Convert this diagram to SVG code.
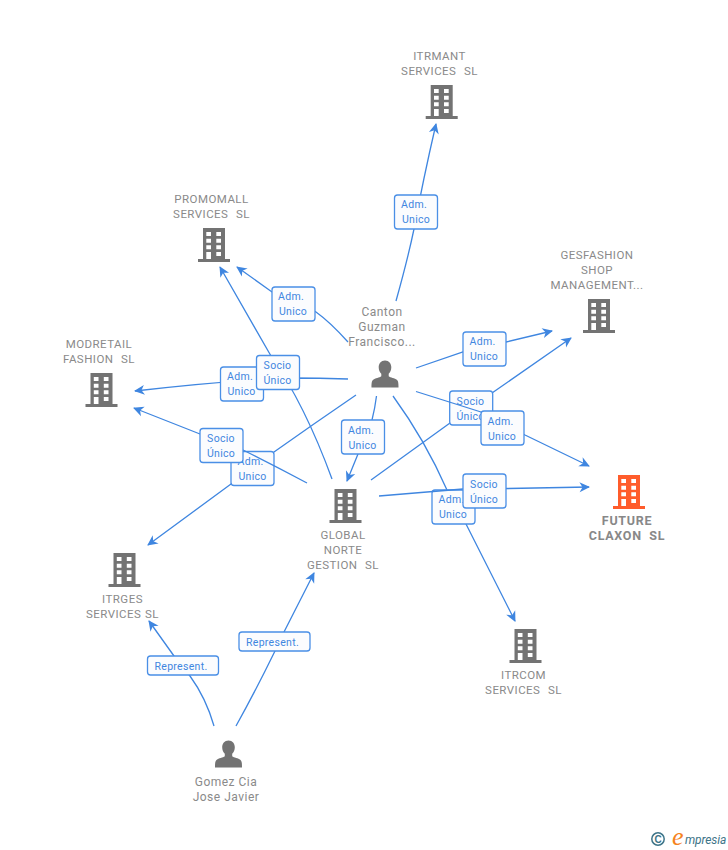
<svg xmlns="http://www.w3.org/2000/svg" width="728" height="850" viewBox="0 0 728 850">
<style>
text{font-family:Roboto,"Liberation Sans",Arial,sans-serif;white-space:pre}
.n{font-size:11.5px;fill:#8a8a8a;text-anchor:middle;letter-spacing:.45px;word-spacing:.5px}
.p{font-size:12px;fill:#8a8a8a;text-anchor:middle;letter-spacing:.5px}
.f{font-size:12.5px;font-weight:700;fill:#888;text-anchor:middle;letter-spacing:.7px}
.l{font-size:10.5px;fill:#3f86e0;text-anchor:middle;letter-spacing:.3px}
.c{fill:none;stroke:#3f86e0;stroke-width:1.3;marker-end:url(#a)}
.b{fill:#fbfcfe;stroke:#4a8fe6;stroke-width:1.3}
</style>
<defs>
<marker id="a" markerUnits="userSpaceOnUse" markerWidth="16" markerHeight="16" viewBox="-13 -8 16 16" refX="0" refY="0" orient="auto">
<path d="M1,0L-9.500,-5L-6.500,0L-9.500,5Z" fill="#3f86e0"/>
</marker>
<symbol id="bw" overflow="visible">
<path fill="#fff" d="M-7.700,-13h4.700v4h-4.700zM2.300,-13h4.700v4h-4.700zM-7.700,-6.300h4.700v4h-4.700zM2.300,-6.300h4.700v4h-4.700zM-7.700,.3h4.700v4h-4.700zM2.300,.3h4.700v4h-4.700zM-7.700,7h4.700v7h-4.700zM2.300,7h4.700v4h-4.700z"/>
</symbol>
<g id="bld"><path d="M-11,-17h22v31h5v3h-32v-3h5z"/><use href="#bw"/></g>
<g id="per"><path d="M0,-14.500c4,0 6.300,3 6.300,6.800c0,2.800 -1,5 -2.600,6.500v2.200c0,1 5,2 7.300,3.200c2.200,1.200 2.500,3 2.500,8.300h-27c0,-5.300 .3,-7.100 2.500,-8.300c2.300,-1.200 7.300,-2.200 7.300,-3.200v-2.200c-1.600,-1.500 -2.600,-3.700 -2.600,-6.500c0,-3.800 2.300,-6.800 6.300,-6.800z"/></g>
</defs>
<rect width="728" height="850" fill="#fff"/>
<g id="connectors">
<path class="c" d="M396,301Q408,258 414,229Q423,180 436,124"/>
<path class="c" d="M348,342Q330,322 316,312Q300,302 272,292L237,267"/>
<path class="c" d="M348,379Q320,378 290,378Q220,381 135,391"/>
<path class="c" d="M356,395Q315,423 274,452Q250,470 231,484L148,545"/>
<path class="c" d="M376.500,396Q375,408 372,420L358,454L347,481"/>
<path class="c" d="M416,368L463,352L506,342L552,331"/>
<path class="c" d="M371,480L450,423L492,393L571,338"/>
<path class="c" d="M393,396Q425,440 447,490L466,524L515,621"/>
<path class="c" d="M214,726Q206,698 190,676L174,656L149,621"/>
<path class="c" d="M236,726Q256,690 275,651L284,632L314,573"/>
</g>
<g id="n-itrmant"><use href="#bld" x="441.700" y="102" fill="#737373"/><text class="n" x="439.500" y="60">ITRMANT</text><text class="n" x="439.500" y="75">SERVICES  SL</text></g>
<g id="n-promomall"><use href="#bld" x="214" y="245" fill="#737373"/><text class="n" x="211.500" y="203">PROMOMALL</text><text class="n" x="211.500" y="218">SERVICES  SL</text></g>
<g id="n-gesfashion"><use href="#bld" x="599" y="316" fill="#737373"/><text class="n" x="597" y="259">GESFASHION</text><text class="n" x="597" y="274">SHOP</text><text class="n" x="597" y="289">MANAGEMENT...</text></g>
<g id="n-modretail"><use href="#bld" x="101.500" y="390" fill="#737373"/><text class="n" x="99" y="348">MODRETAIL</text><text class="n" x="99" y="363">FASHION  SL</text></g>
<g id="n-global"><use href="#bld" x="345.500" y="506" fill="#737373"/><text class="n" x="343" y="539">GLOBAL</text><text class="n" x="343" y="554">NORTE</text><text class="n" x="343" y="569">GESTION  SL</text></g>
<g id="n-future"><use href="#bld" x="629" y="492" fill="#ff5c2b"/><text class="f" x="627" y="525">FUTURE</text><text class="f" x="627" y="540">CLAXON  SL</text></g>
<g id="n-itrges"><use href="#bld" x="124.500" y="570" fill="#737373"/><text class="n" x="122.500" y="603">ITRGES</text><text class="n" x="122.500" y="618">SERVICES SL</text></g>
<g id="n-itrcom"><use href="#bld" x="525.500" y="646" fill="#737373"/><text class="n" x="523.500" y="679">ITRCOM</text><text class="n" x="523.500" y="694">SERVICES  SL</text></g>
<g id="n-canton"><use href="#per" x="385" y="375" fill="#737373"/><text class="p" x="382" y="316">Canton</text><text class="p" x="382" y="331">Guzman</text><text class="p" x="382" y="346">Francisco...</text></g>
<g id="n-gomez"><use href="#per" x="228.500" y="755" fill="#737373"/><text class="p" x="226" y="786">Gomez Cia</text><text class="p" x="226" y="801">Jose Javier</text></g>
<g id="labels">
<g><rect class="b" x="394.500" y="195" width="43" height="34" rx="3"/><text class="l" x="414" y="208">Adm.</text><text class="l" x="416" y="223">Unico</text></g>
<g><rect class="b" x="272" y="287" width="43" height="34" rx="3"/><text class="l" x="291" y="300">Adm.</text><text class="l" x="293" y="315">Unico</text></g>
<g><rect class="b" x="220.500" y="367" width="43" height="34" rx="3"/><text class="l" x="240" y="380">Adm.</text><text class="l" x="241.500" y="395">Unico</text></g>
<g><rect class="b" x="231" y="451.500" width="43" height="34" rx="3"/><text class="l" x="250.500" y="465">Adm.</text><text class="l" x="252.500" y="480">Unico</text></g>
<g><rect class="b" x="341.500" y="420" width="43" height="34" rx="3"/><text class="l" x="361" y="433.500">Adm.</text><text class="l" x="362.500" y="448.500">Unico</text></g>
<g><rect class="b" x="463" y="332" width="43" height="34" rx="3"/><text class="l" x="482.500" y="345">Adm.</text><text class="l" x="484" y="360">Unico</text></g>
<g><rect class="b" x="449.700" y="391" width="43" height="34" rx="3"/><text class="l" x="470.500" y="404.500">Socio</text><text class="l" x="470.500" y="419.500">Único</text></g>
<g><rect class="b" x="432" y="490" width="43" height="34" rx="3"/><text class="l" x="451.500" y="503">Adm.</text><text class="l" x="453" y="518">Unico</text></g>
<g><rect class="b" x="147.500" y="656" width="71" height="19" rx="3"/><text class="l" x="181" y="669.500">Represent.</text></g>
<g><rect class="b" x="239" y="632" width="71" height="19" rx="3"/><text class="l" x="272.500" y="645.500">Represent.</text></g>
</g>
<g id="connectors-upper">
<path class="c" d="M332,479Q305,405 271,356L220,267"/>
<path class="c" d="M307,483Q275,466 243,450L200,434L134,408"/>
<path class="c" d="M416,391.500L481,412L525,435L589,466"/>
<path class="c" d="M379,496L463,489Q525,488.500 589,487"/>
</g>
<g id="labels-upper">
<g><rect class="b" x="256.500" y="355.500" width="43" height="34" rx="3"/><text class="l" x="277.500" y="369">Socio</text><text class="l" x="277.500" y="384">Único</text></g>
<g><rect class="b" x="200" y="428.500" width="43" height="34" rx="3"/><text class="l" x="221" y="442">Socio</text><text class="l" x="221" y="457">Único</text></g>
<g><rect class="b" x="481" y="411" width="43" height="34" rx="3"/><text class="l" x="500.500" y="424.500">Adm.</text><text class="l" x="502" y="439.500">Unico</text></g>
<g><rect class="b" x="463" y="474" width="43" height="34" rx="3"/><text class="l" x="484" y="487.500">Socio</text><text class="l" x="484" y="502.500">Único</text></g>
</g>
<g id="logo">
<circle cx="658" cy="839" r="6.200" fill="none" stroke="#3d7488" stroke-width="1.500"/>
<text x="658" y="842.500" font-size="10" fill="#3d7488" text-anchor="middle" style="font-family:'Liberation Sans',sans-serif;font-weight:700">C</text>
<text x="672" y="845" font-size="26" fill="#f58220" style="font-family:'Liberation Serif',serif;font-style:italic">e</text>
<text x="685" y="844" font-size="12" fill="#3d7488" style="font-style:italic;letter-spacing:-.1px">mpresia</text>
</g>
</svg>
